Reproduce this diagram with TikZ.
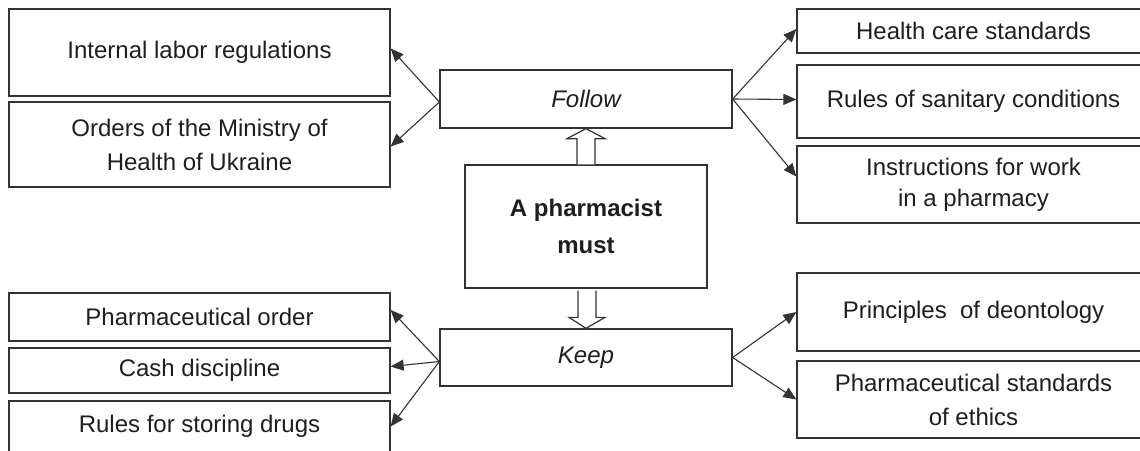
\documentclass[tikz,border=0pt]{standalone}
\usepackage{fontspec}
\setmainfont{Liberation Sans}
\usetikzlibrary{arrows.meta,calc}
\definecolor{lineColor}{HTML}{333333}
\definecolor{textColor}{HTML}{1E1E1E}

\begin{document}
\begin{tikzpicture}[x=1pt,y=-1pt,
  box/.style={draw=lineColor,line width=1.3pt,inner sep=0pt,align=center,
    text=textColor,font=\fontsize{24}{34}\selectfont},
  link/.style={draw=lineColor,line width=1.1pt,-{Triangle[length=13pt,width=11pt]}},
  fat/.style={draw=lineColor,line width=1.2pt,fill=white}]
\useasboundingbox (0,0) rectangle (1140,450);
\clip (0,0) rectangle (1140,450);
% centre
\node[box,minimum width=242pt,minimum height=123pt,font=\fontsize{24}{37}\selectfont\bfseries]
  (must) at (586,226.5) {A pharmacist\\must};
\node[box,minimum width=292pt,minimum height=58pt,font=\fontsize{24}{34}\selectfont\itshape]
  (follow) at (586,99) {Follow};
\node[box,minimum width=292pt,minimum height=57pt,font=\fontsize{24}{34}\selectfont\itshape]
  (keep) at (586,357.5) {Keep};
% left
\node[box,minimum width=381pt,minimum height=87pt] (labor) at (199.5,52.5) {Internal labor regulations};
\node[box,minimum width=381pt,minimum height=85pt] (orders) at (199.5,144.5) {Orders of the Ministry of\\ Health of Ukraine};
\node[box,minimum width=381pt,minimum height=48pt] (order) at (199.5,317) {Pharmaceutical order};
\node[box,minimum width=381pt,minimum height=45pt] (cash) at (199.5,370.5) {Cash discipline};
\node[box,minimum width=381pt,minimum height=51pt] (storing) at (199.5,426.5) {Rules for storing drugs};
% right
\node[box,minimum width=353pt,minimum height=44pt] (care) at (973.5,31) {Health care standards};
\node[box,minimum width=353pt,minimum height=73pt] (sanit) at (973.5,101.5) {Rules of sanitary conditions};
\node[box,minimum width=353pt,minimum height=77pt,font=\fontsize{24}{31}\selectfont] (work) at (973.5,184.5) {Instructions for work\\ in a pharmacy};
\node[box,minimum width=353pt,minimum height=78pt] (deont) at (973.5,312) {Principles \ of deontology};
\node[box,minimum width=353pt,minimum height=77pt] (ethics) at (973.5,399.5) {Pharmaceutical standards\\ of ethics};
% hollow arrows
\draw[fat] ($(must.north)+(-9,0)$) -- ($(follow.south)+(-9,10)$) -- ($(follow.south)+(-19,10)$)
  -- (follow.south) -- ($(follow.south)+(19,10)$) -- ($(follow.south)+(9,10)$) -- ($(must.north)+(9,0)$);
\draw[fat] ($(must.south)+(-8,2)$) -- ($(keep.north)+(-8,-11)$) -- ($(keep.north)+(-17,-11)$)
  -- (keep.north) -- ($(keep.north)+(19,-11)$) -- ($(keep.north)+(10,-11)$) -- ($(must.south)+(10,2)$);
% links
\draw[link] ([yshift=-3pt]follow.west) -- ([yshift=4pt]labor.east);
\draw[link] ([yshift=-3pt]follow.west) -- ([yshift=-2pt]orders.east);
\draw[link] (follow.east) -- ([yshift=2pt]care.west);
\draw[link] (follow.east) -- ([yshift=2pt]sanit.west);
\draw[link] (follow.east) -- ([yshift=8pt]work.west);
\draw[link] ([yshift=-4pt]keep.west) -- ([yshift=7pt]order.east);
\draw[link] ([yshift=-4pt]keep.west) -- ([yshift=4pt]cash.east);
\draw[link] ([yshift=-4pt]keep.west) -- (storing.east);
\draw[link] (keep.east) -- (deont.west);
\draw[link] (keep.east) -- (ethics.west);
\end{tikzpicture}
\end{document}
